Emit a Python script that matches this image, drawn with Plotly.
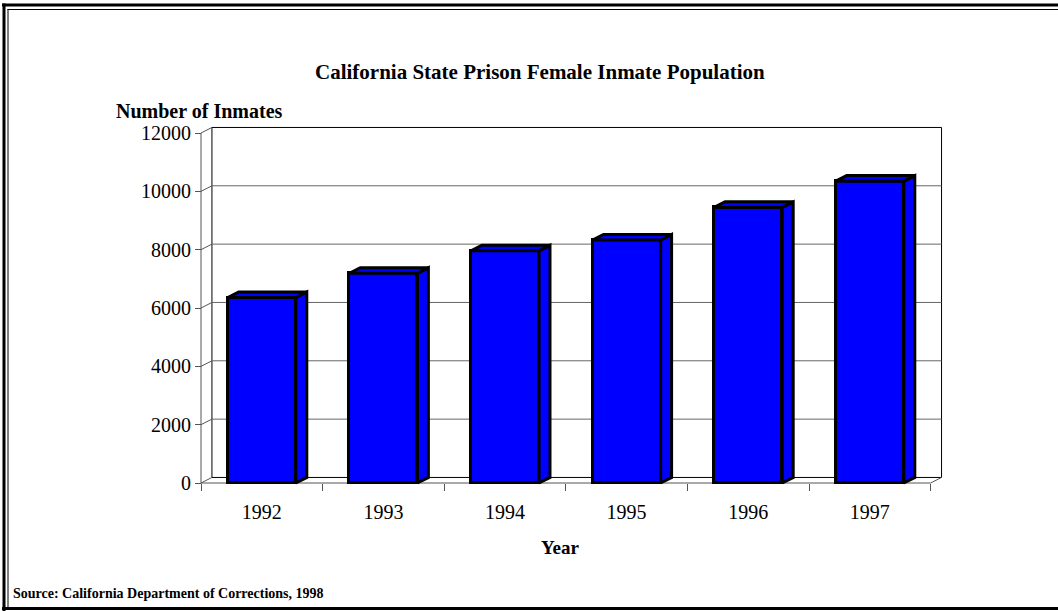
import plotly.graph_objects as go

# ---- data ----
years = ["1992", "1993", "1994", "1995", "1996", "1997"]
inmates = [6360, 7190, 7960, 8330, 9450, 10350]
y_ticks = [0, 2000, 4000, 6000, 8000, 10000, 12000]
y_tick_text = ["0", "2000", "4000", "6000", "8000", "10000", "12000"]

title_text = "California State Prison Female Inmate Population"
y_title = "Number of Inmates"
x_title = "Year"
source_text = "Source: California Department of Corrections, 1998"

# ---- geometry ----
FW, FH = 1058, 611
PX0, PY0 = 201.0, 483.0          # pixel of front origin (x=0, y=0)
SX = 121.6                        # px per category
SY = 350.0 / 12000.0              # px per inmate
L, R, T, B = 180.0, 980.0, 110.0, 500.0
W, H = R - L, B - T
xr = [(L - PX0) / SX, (R - PX0) / SX]
yr = [(PY0 - B) / SY, (PY0 - T) / SY]
DX, DY = 0.09, 190.0              # 3-D depth offset in data units
BW = 0.56                         # bar width (category units)
NC = len(years)
YMAX = y_ticks[-1]
FONT = "Liberation Serif"
BLUE = "#0000FF"
AX = "#555555"
GRID = "#666666"


def pxp(px):
    return (px - L) / W


def pyp(py):
    return (B - py) / H


fig = go.Figure()

# front faces of the bars
centers = [i + 0.5 for i in range(NC)]
fig.add_trace(go.Bar(
    x=centers, y=inmates, width=BW,
    marker=dict(color=BLUE, line=dict(color="black", width=3)),
    cliponaxis=False, showlegend=False, hoverinfo="x+y",
))

# top and side faces from the same values
for c, v in zip(centers, inmates):
    x0, x1 = c - BW / 2, c + BW / 2
    fig.add_trace(go.Scatter(
        x=[x1, x1 + DX, x1 + DX, x1, x1], y=[0, DY, v + DY, v, 0],
        mode="lines", fill="toself", fillcolor=BLUE,
        line=dict(color="black", width=3), showlegend=False, hoverinfo="skip"))
    fig.add_trace(go.Scatter(
        x=[x0, x0 + DX, x1 + DX, x1, x0], y=[v, v + DY, v + DY, v, v],
        mode="lines", fill="toself", fillcolor=BLUE,
        line=dict(color="black", width=3), showlegend=False, hoverinfo="skip"))

shapes = []
# back wall
shapes.append(dict(type="rect", xref="x", yref="y", x0=DX, x1=NC + DX,
                   y0=DY, y1=YMAX + DY, line=dict(color="black", width=1),
                   layer="below"))
# back-wall gridlines
for t in y_ticks[1:-1]:
    shapes.append(dict(type="line", xref="x", yref="y", x0=DX, x1=NC + DX,
                       y0=t + DY, y1=t + DY, line=dict(color=GRID, width=1),
                       layer="below"))
# left-wall diagonals from front ticks to back wall
for t in y_ticks:
    shapes.append(dict(type="line", xref="x", yref="y", x0=0, x1=DX,
                       y0=t, y1=t + DY, line=dict(color=AX, width=1),
                       layer="below"))
# front vertical axis line
shapes.append(dict(type="line", xref="x", yref="y", x0=0, x1=0, y0=0, y1=YMAX,
                   line=dict(color=AX, width=1), layer="below"))
# floor front edge and right diagonal
shapes.append(dict(type="line", xref="x", yref="y", x0=0, x1=NC, y0=0, y1=0,
                   line=dict(color=AX, width=1), layer="below"))
shapes.append(dict(type="line", xref="x", yref="y", x0=NC, x1=NC + DX,
                   y0=0, y1=DY, line=dict(color=AX, width=1), layer="below"))

# outer frame (double rule on top/left, thick on bottom)
def hline(py, x0, x1, w):
    shapes.append(dict(type="line", xref="paper", yref="paper",
                       x0=pxp(x0), x1=pxp(x1), y0=pyp(py), y1=pyp(py),
                       line=dict(color="black", width=w)))


def vline(px, y0, y1, w):
    shapes.append(dict(type="line", xref="paper", yref="paper",
                       x0=pxp(px), x1=pxp(px), y0=pyp(y0), y1=pyp(y1),
                       line=dict(color="black", width=w)))


hline(5, 2, FW, 3)
hline(9.5, 7.5, FW, 1)
vline(4, 3.5, FH, 3)
vline(8, 9, 608, 1)
hline(608.5, 2, FW, 3)

annotations = [
    dict(text="<b>%s</b>" % title_text, xref="paper", yref="paper",
         x=pxp(540), y=pyp(72), xanchor="center", yanchor="middle",
         showarrow=False, font=dict(family=FONT, size=21, color="black")),
    dict(text="<b>%s</b>" % y_title, xref="paper", yref="paper",
         x=pxp(114), y=pyp(111), xanchor="left", yanchor="middle",
         showarrow=False, font=dict(family=FONT, size=20, color="black")),
    dict(text="<b>%s</b>" % x_title, xref="paper", yref="paper",
         x=pxp(560), y=pyp(547), xanchor="center", yanchor="middle",
         showarrow=False, font=dict(family=FONT, size=19, color="black")),
    dict(text="<b>%s</b>" % source_text, xref="paper", yref="paper",
         x=pxp(11), y=pyp(593), xanchor="left", yanchor="middle",
         showarrow=False, font=dict(family=FONT, size=14, color="black")),
]

fig.update_layout(
    width=FW, height=FH,
    margin=dict(l=L, r=FW - R, t=T, b=FH - B, pad=0),
    paper_bgcolor="white", plot_bgcolor="white",
    showlegend=False, bargap=0,
    shapes=shapes, annotations=annotations,
    xaxis=dict(
        range=xr, anchor="free", position=(B - PY0) / H,
        tickmode="array", tickvals=centers, ticktext=years, ticks="",
        ticklabelstandoff=15,
        minor=dict(tickmode="array", tickvals=list(range(NC + 1)),
                   ticks="outside", ticklen=7, tickcolor=AX, tickwidth=1),
        showgrid=False, zeroline=False, showline=False,
        tickfont=dict(family=FONT, size=20, color="black"),
        fixedrange=True,
    ),
    yaxis=dict(
        range=yr, anchor="free", position=(PX0 - L) / W,
        tickmode="array", tickvals=y_ticks, ticktext=y_tick_text,
        ticks="outside", ticklen=6, tickcolor=AX, tickwidth=1,
        showgrid=False, zeroline=False, showline=False,
        tickfont=dict(family=FONT, size=20, color="black"),
        fixedrange=True,
    ),
)

fig.write_html(
    "out.html",
    config={"displayModeBar": False},
    post_script="document.body.style.margin='0';document.body.style.overflow='hidden';",
)
